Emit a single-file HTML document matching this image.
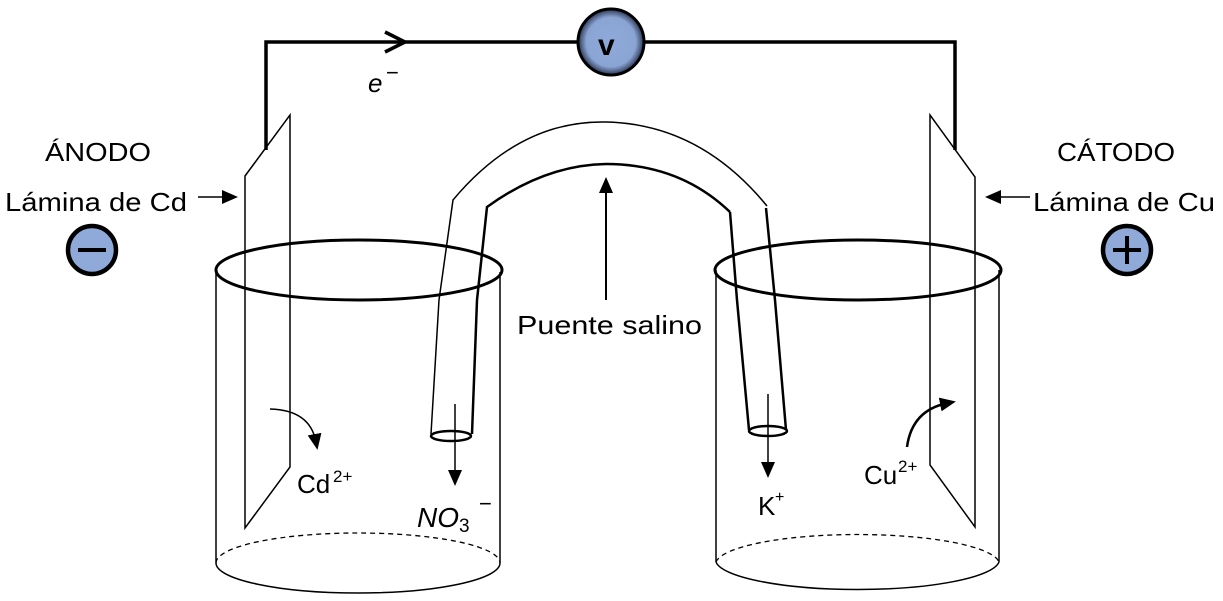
<!DOCTYPE html>
<html><head><meta charset="utf-8"><style>
html,body{margin:0;padding:0;background:#fff;}
svg{display:block;}
text{font-family:"Liberation Sans",sans-serif;fill:#000;}
</style></head><body>
<svg width="1223" height="601" viewBox="0 0 1223 601" xmlns="http://www.w3.org/2000/svg">
<defs>
<radialGradient id="g" cx="50%" cy="50%" r="50%">
<stop offset="0" stop-color="#8fa9d9"/><stop offset="0.75" stop-color="#8aa4d4"/><stop offset="1" stop-color="#2a3550"/>
</radialGradient>
<marker id="ah" markerWidth="10" markerHeight="10" refX="5" refY="5" orient="auto" markerUnits="userSpaceOnUse">
<path d="M0,0 L10,5 L0,10 Z" fill="#000"/></marker>
<marker id="ah2" markerWidth="16" markerHeight="16" refX="8" refY="8" orient="auto" markerUnits="userSpaceOnUse">
<path d="M0,1 L16,8 L0,15 Z" fill="#000"/></marker>
</defs>
<g fill="none" stroke="#000">
<!-- wire -->
<path d="M266,150 V42 H955 V150" stroke-width="3.5"/>
<path d="M385,32 L405,42 L385,52" stroke-width="3.5"/>
<!-- voltmeter -->
<circle cx="611" cy="42" r="33" fill="url(#g)" stroke="#000" stroke-width="3"/>

<!-- left cylinder -->
<line x1="216" y1="272" x2="216" y2="563" stroke-width="1.5"/>
<line x1="500" y1="272" x2="500" y2="563" stroke-width="1.5"/>
<path d="M216,563 A142,30 0 0 1 500,563" stroke-width="1.3" stroke-dasharray="5,4"/>
<path d="M216,563 A142,30 0 0 0 500,563" stroke-width="1.5"/>
<!-- left plate -->
<path d="M245,176 L290,115 L290,467 L245,528 Z" stroke-width="1.5" fill="none"/>
<ellipse cx="359" cy="270" rx="143" ry="30" stroke-width="3"/>

<!-- right cylinder -->
<line x1="716" y1="270" x2="716" y2="562" stroke-width="1.5"/>
<line x1="999" y1="270" x2="999" y2="562" stroke-width="1.5"/>
<path d="M716,562 A142,30 0 0 1 999,562" stroke-width="1.3" stroke-dasharray="5,4"/>
<path d="M716,562 A142,30 0 0 0 999,562" stroke-width="1.5"/>
<path d="M930,115 L975,177 L975,527 L930,465 Z" stroke-width="1.5"/>
<ellipse cx="858" cy="270" rx="143" ry="30" stroke-width="3"/>

<!-- salt bridge -->
<path d="M431,434 L439,300 L453,200 Q520,120 606,122 Q700,124 767,206" stroke-width="1.5"/>
<path d="M472,434 L477,300 L487,207 Q545,165 606,164 Q680,164 730,212" stroke-width="2.5"/>
<path d="M730,212 L737,300 L749,430" stroke-width="2.5"/>
<path d="M766,208 L775,300 L786,430" stroke-width="2.5"/>
<ellipse cx="451" cy="436" rx="20" ry="5" stroke-width="2.5" fill="#fff"/>
<ellipse cx="768" cy="431" rx="19" ry="5" stroke-width="2.5" fill="#fff"/>

<!-- arrows -->
<line x1="606" y1="300" x2="606" y2="185" stroke-width="2" marker-end="url(#ah2)"/>
<line x1="455" y1="404" x2="455" y2="478" stroke-width="1.5" marker-end="url(#ah2)"/>
<line x1="768" y1="394" x2="768" y2="470" stroke-width="1.5" marker-end="url(#ah2)"/>
<path d="M270,409 Q310,410 316,442" stroke-width="1.5" marker-end="url(#ah2)"/>
<path d="M907,447 Q912,410 948,403" stroke-width="2.5" marker-end="url(#ah2)"/>
<line x1="198" y1="197" x2="230" y2="197" stroke-width="1.5" marker-end="url(#ah2)"/>
<line x1="1030" y1="197" x2="993" y2="197" stroke-width="1.5" marker-end="url(#ah2)"/>

<!-- sign circles -->
<circle cx="92" cy="250" r="24" fill="#8fa9d9" stroke-width="4.5"/>
<line x1="78" y1="250" x2="106" y2="250" stroke-width="4"/>
<circle cx="1127" cy="250" r="24" fill="#8fa9d9" stroke-width="4.5"/>
<line x1="1113" y1="250" x2="1141" y2="250" stroke-width="4"/>
<line x1="1127" y1="236" x2="1127" y2="264" stroke-width="4"/>
</g>
<text x="598" y="55" font-size="30" font-weight="bold">v</text>

<text x="45" y="161" font-size="26" textLength="106" lengthAdjust="spacingAndGlyphs">ÁNODO</text>
<text x="5" y="211" font-size="26" textLength="182" lengthAdjust="spacingAndGlyphs">Lámina de Cd</text>
<text x="1057" y="161" font-size="26" textLength="118" lengthAdjust="spacingAndGlyphs">CÁTODO</text>
<text x="1033" y="211" font-size="26" textLength="182" lengthAdjust="spacingAndGlyphs">Lámina de Cu</text>
<text x="517" y="334" font-size="26" textLength="185" lengthAdjust="spacingAndGlyphs">Puente salino</text>
<text x="368" y="92" font-size="26" font-style="italic" font-family="Liberation Serif">e</text>
<text x="386" y="80" font-size="22">−</text>
<text x="297" y="493" font-size="26">Cd</text><text x="333" y="482" font-size="17">2+</text>
<text x="417" y="527" font-size="28" font-style="italic" font-family="Liberation Serif">NO</text>
<text x="459" y="532" font-size="19" font-family="Liberation Serif">3</text>
<text x="479" y="511" font-size="22">−</text>
<text x="758" y="515" font-size="26">K</text><text x="775" y="502" font-size="16">+</text>
<text x="864" y="484" font-size="26">Cu</text><text x="898" y="472" font-size="17">2+</text>
</svg>
</body></html>
